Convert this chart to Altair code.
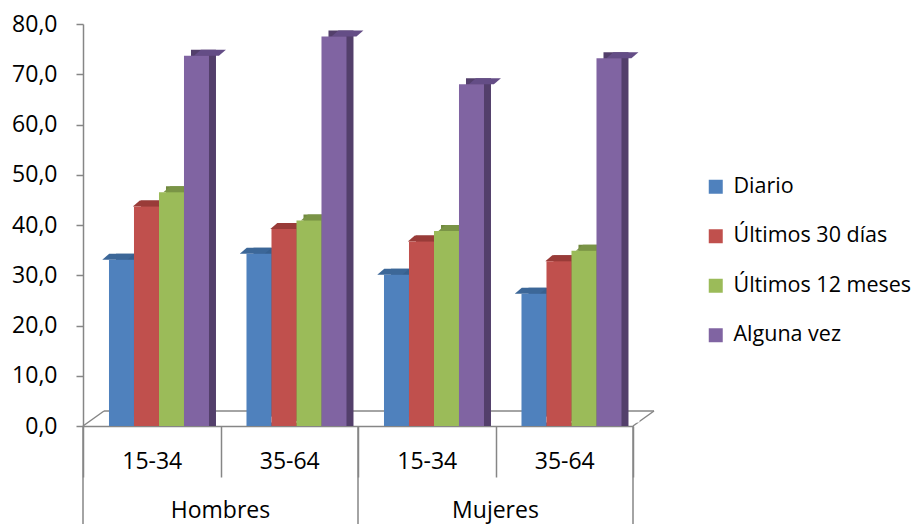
import altair as alt
import pandas as pd

# ---- data ----
groups = ["Hombres", "Hombres", "Mujeres", "Mujeres"]
ages = ["15-34", "35-64", "15-34", "35-64"]
series = ["Diario", "Últimos 30 días", "Últimos 12 meses", "Alguna vez"]
diario = [32.3, 33.5, 29.3, 25.5]
ultimos_30 = [42.9, 38.4, 35.9, 32.0]
ultimos_12 = [45.7, 40.1, 38.0, 34.1]
alguna_vez = [72.9, 76.7, 67.2, 72.4]
y_ticks = [0, 10, 20, 30, 40, 50, 60, 70, 80]

# ---- styles ----
front_colors = ["#4F81BD", "#C0504D", "#9BBB59", "#8064A2"]
cap_colors = ["#3C6798", "#993B38", "#7A9446", "#644D86"]
side_colors = ["#37608F", "#8A3835", "#71893F", "#533F6B"]
GRAY = "#868686"
FONT = "Open Sans"

W, H = 550, 402
BAR_W = 25.0
DX, DY = 7, 6          # 3D depth of bars
BASE = 4               # bars sit slightly behind the front floor edge
PAD_OUT = 0.75
ALIGN_FRONT = 0.693
ALIGN_SIDE = 0.693 + DX / 37.5

cats = [f"{g} {a}" for g, a in zip(groups, ages)]
rows = []
for i, c in enumerate(cats):
    for j, (s, vals) in enumerate(zip(series, [diario, ultimos_30, ultimos_12, alguna_vez])):
        rows.append({"cat": c, "serie": s, "valor": vals[i],
                     "c_cap": cap_colors[j], "c_side": side_colors[j]})
df = pd.DataFrame(rows)

xscale = alt.Scale(domain=cats, paddingInner=0, paddingOuter=0)
yscale = alt.Scale(domain=[0, 80], nice=False)
off_front = alt.Scale(domain=series, paddingInner=0, paddingOuter=PAD_OUT, align=ALIGN_FRONT)
off_side = alt.Scale(domain=series, paddingInner=0, paddingOuter=PAD_OUT, align=ALIGN_SIDE)

x_axis = alt.Axis(title=None, labelExpr="split(datum.value, ' ')[1]", labelAngle=0,
                  tickBand="extent", tickSize=51, tickColor=GRAY, tickWidth=1.5,
                  domainColor=GRAY, domainWidth=1.5, labelFont=FONT, labelFontSize=23,
                  labelColor="black", labelBaseline="middle", labelPadding=-16)
y_axis = alt.Axis(title=None, values=y_ticks, grid=False,
                  labelExpr="replace(format(datum.value, '.1f'), '.', ',')",
                  tickSize=7, tickColor=GRAY, tickWidth=1.5, domainColor=GRAY, domainWidth=1.5,
                  labelFont=FONT, labelFontSize=23, labelColor="black", labelPadding=19)

base = alt.Chart(df)

# floor (3D base plane)
floor_df = pd.DataFrame({"k": [0]})
floor_back = alt.Chart(floor_df).mark_rule(color=GRAY, strokeWidth=1.5).encode(
    x=alt.value(21), x2=alt.value(W + 21), y=alt.value(H - 15), y2=alt.value(H - 15))
floor_left = alt.Chart(floor_df).mark_rule(color=GRAY, strokeWidth=1.5).encode(
    x=alt.value(0), x2=alt.value(21), y=alt.value(H), y2=alt.value(H - 15))
floor_right = alt.Chart(floor_df).mark_rule(color=GRAY, strokeWidth=1.5).encode(
    x=alt.value(W), x2=alt.value(W + 21), y=alt.value(H), y2=alt.value(H - 15))

side = base.mark_bar(yOffset=-BASE - DY, y2Offset=-BASE, strokeWidth=0).encode(
    x=alt.X("cat:N", scale=xscale, axis=x_axis),
    xOffset=alt.XOffset("serie:N", scale=off_side),
    y=alt.Y("valor:Q", scale=yscale, axis=y_axis, stack=None),
    color=alt.Color("c_side:N", scale=None),
)

u = 20.0
hw = BAR_W / 2 / u
cap_path = (f"M {-hw:.4f} 0 L {hw:.4f} 0 L {hw + DX / u:.4f} {-DY / u:.4f} "
            f"L {-hw + DX / u:.4f} {-DY / u:.4f} Z")
tri_path = (f"M {hw:.4f} 0.03 L {hw + DX / u + 0.05:.4f} 0.03 L {hw + DX / u + 0.05:.4f} {-DY / u - 0.03:.4f} Z")

caps = base.mark_point(shape=cap_path, size=(2 * u) ** 2, filled=True, opacity=1,
                       strokeWidth=0, yOffset=-BASE).encode(
    x=alt.X("cat:N", scale=xscale),
    xOffset=alt.XOffset("serie:N", scale=off_front),
    y=alt.Y("valor:Q", scale=yscale, stack=None),
    color=alt.Color("c_cap:N", scale=None),
)

tris = base.mark_point(shape=tri_path, size=(2 * u) ** 2, filled=True, opacity=1,
                       strokeWidth=0, yOffset=-BASE, color="white").encode(
    x=alt.X("cat:N", scale=xscale),
    xOffset=alt.XOffset("serie:N", scale=off_front),
    y=alt.datum(0),
)

front = base.mark_bar(yOffset=-BASE, y2Offset=-BASE, strokeWidth=0).encode(
    x=alt.X("cat:N", scale=xscale),
    xOffset=alt.XOffset("serie:N", scale=off_front),
    y=alt.Y("valor:Q", scale=yscale, stack=None),
    color=alt.Color("serie:N", scale=alt.Scale(domain=series, range=front_colors),
                    sort=series,
                    legend=alt.Legend(title=None, orient="none", legendX=622, legendY=152,
                                      symbolType="square", symbolSize=196, symbolStrokeWidth=0,
                                      labelFont=FONT, labelFontSize=21.5, labelColor="black",
                                      labelOffset=7, rowPadding=26.5, padding=0, labelLimit=0)),
)

# group dividers and labels
grp_df = pd.DataFrame({"cat": [cats[0], cats[2]], "grupo": [groups[0], groups[2]]})
long_left = alt.Chart(grp_df).mark_rule(color=GRAY, strokeWidth=1.5).encode(
    x=alt.X("cat:N", scale=xscale, bandPosition=0), y=alt.value(H), y2=alt.value(H + 125))
end_df = pd.DataFrame({"cat": [cats[-1]]})
long_right = alt.Chart(end_df).mark_rule(color=GRAY, strokeWidth=1.5).encode(
    x=alt.X("cat:N", scale=xscale, bandPosition=1), y=alt.value(H), y2=alt.value(H + 125))
grp_text = alt.Chart(grp_df).mark_text(font=FONT, fontSize=23, color="black",
                                       baseline="middle", align="center").encode(
    x=alt.X("cat:N", scale=xscale, bandPosition=1), y=alt.value(H + 85), text="grupo:N")

chart = alt.layer(
    floor_back, floor_left, floor_right, side, caps, tris, front,
    long_left, long_right, grp_text,
).resolve_scale(xOffset="independent").properties(
    width=W, height=H,
    autosize=alt.AutoSizeParams(type="none"),
    padding={"left": 75, "top": 16, "right": 280, "bottom": 120},
).configure_view(stroke=None)

chart.save("out.html", embed_options={"renderer": "svg", "actions": False})
